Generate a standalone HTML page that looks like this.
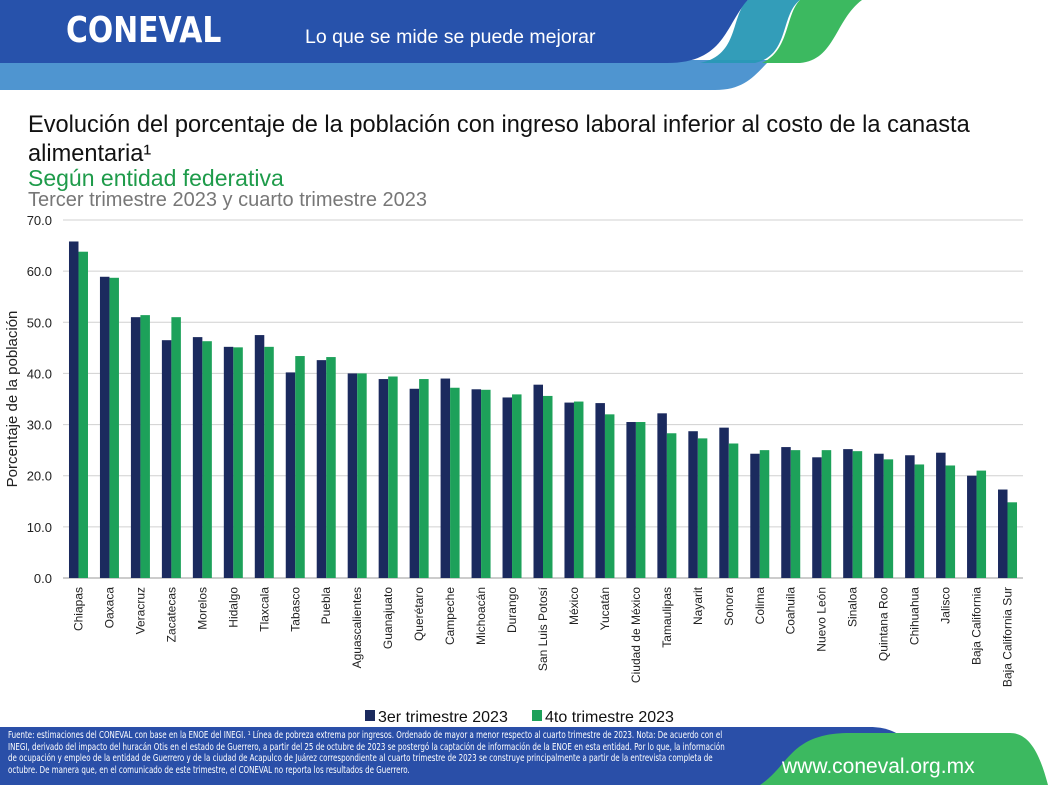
<!DOCTYPE html>
<html><head><meta charset="utf-8"><style>
body{margin:0;width:1048px;height:785px;overflow:hidden;background:#fff;font-family:"Liberation Sans",sans-serif;position:relative}
.t{position:absolute;white-space:nowrap}
</style></head><body>
<svg width="1048" height="92" style="position:absolute;left:0;top:0">
<path d="M0 60H770 C755 75 745 90 715 90 H0Z" fill="#4f95d0"/>
<path d="M800 0H862 C835 20 835 60 800 63 H762 C790 50 785 15 800 0Z" fill="#3cb960"/>
<path d="M0 0H748 C725 25 725 63 667 63 H0Z" fill="#2752ab"/>
<path d="M748 0H800 C780 15 790 55 755 63 H700 C740 55 730 15 748 0Z" fill="#2898b5" opacity="0.95"/>
</svg>
<div class="t" style="left:66px;top:10px;color:#fff;font-weight:bold;font-size:36px;letter-spacing:0px;font-family:'DejaVu Sans Condensed','Liberation Sans',sans-serif;transform:scaleX(0.92);transform-origin:left top">CONEVAL</div>
<div class="t" style="left:305px;top:26px;color:#fff;font-size:19.5px">Lo que se mide se puede mejorar</div>
<div class="t" style="left:28px;top:111px;font-size:23.6px;color:#111;line-height:29px">Evolución del porcentaje de la población con ingreso laboral inferior al costo de la canasta<br>alimentaria¹</div>
<div class="t" style="left:28px;top:165px;font-size:23px;color:#1e9b4a">Según entidad federativa</div>
<div class="t" style="left:28px;top:189px;font-size:20px;color:#777">Tercer trimestre 2023 y cuarto trimestre 2023</div>
<svg id="chart" width="1048" height="785" style="position:absolute;left:0;top:0"></svg>
<svg width="1048" height="60" style="position:absolute;left:0;top:725px">
<path d="M0 2H870 C900 2 920 20 928 60 H0Z" fill="#2a4fa8"/>
<path d="M760 60 C790 40 790 8 850 8 H1010 C1030 8 1040 30 1048 60Z" fill="#3cb960"/>
</svg>
<div class="t" style="left:8px;top:730px;color:#fff;font-size:9.5px;line-height:11.5px;font-family:'DejaVu Sans Condensed','Liberation Sans',sans-serif;transform:scaleX(0.83);transform-origin:left top">Fuente: estimaciones del CONEVAL con base en la ENOE del INEGI. ¹ Línea de pobreza extrema por ingresos. Ordenado de mayor a menor respecto al cuarto trimestre de 2023. Nota: De acuerdo con el<br>INEGI, derivado del impacto del huracán Otis en el estado de Guerrero, a partir del 25 de octubre de 2023 se postergó la captación de información de la ENOE en esta entidad. Por lo que, la información<br>de ocupación y empleo de la entidad de Guerrero y de la ciudad de Acapulco de Juárez correspondiente al cuarto trimestre de 2023 se construye principalmente a partir de la entrevista completa de<br>octubre. De manera que, en el comunicado de este trimestre, el CONEVAL no reporta los resultados de Guerrero.</div>
<div class="t" style="left:782px;top:755px;color:#fff;font-size:21px">www.coneval.org.mx</div>
<script>
const categories=["Chiapas","Oaxaca","Veracruz","Zacatecas","Morelos","Hidalgo","Tlaxcala","Tabasco","Puebla","Aguascalientes","Guanajuato","Querétaro","Campeche","Michoacán","Durango","San Luis Potosí","México","Yucatán","Ciudad de México","Tamaulipas","Nayarit","Sonora","Colima","Coahuila","Nuevo León","Sinaloa","Quintana Roo","Chihuahua","Jalisco","Baja California","Baja California Sur"];
const q3=[65.8,58.9,51.0,46.5,47.1,45.2,47.5,40.2,42.6,40.0,38.9,37.0,39.0,36.9,35.3,37.8,34.3,34.2,30.5,32.2,28.7,29.4,24.3,25.6,23.6,25.2,24.3,24.0,24.5,20.0,17.3];
const q4=[63.8,58.7,51.4,51.0,46.3,45.1,45.2,43.4,43.2,40.0,39.4,38.9,37.2,36.8,35.9,35.6,34.5,32.0,30.5,28.3,27.3,26.3,25.0,25.0,25.0,24.8,23.2,22.2,22.0,21.0,14.8];
const yTicks=["0.0","10.0","20.0","30.0","40.0","50.0","60.0","70.0"];
const seriesNames=["3er trimestre 2023","4to trimestre 2023"];
const NS="http://www.w3.org/2000/svg",svg=document.getElementById('chart');
const x0=63,x1=1023,yB=578,yT=220,yMax=70;
const step=(x1-x0)/categories.length,bw=9.5;
const y=v=>yB-(v/yMax)*(yB-yT);
function mk(t,a,p){const e=document.createElementNS(NS,t);for(const k in a)e.setAttribute(k,a[k]);(p||svg).appendChild(e);return e;}
yTicks.forEach(t=>{const v=parseFloat(t);
const l=mk('line',{x1:x0,x2:x1,y1:y(v),y2:y(v),stroke:v===0?'#999':'#d0d0d0','stroke-width':1});


const tx=mk('text',{x:52,y:y(v)+5,'text-anchor':'end','font-size':13,fill:'#222'});tx.textContent=t;

});
const yt=mk('text',{transform:'translate(17,399) rotate(-90)','text-anchor':'middle','font-size':15,fill:'#222'});yt.textContent='Porcentaje de la población';


categories.forEach((c,i)=>{const cx=x0+step*(i+0.5);
const a=mk('rect',{x:cx-bw,y:y(q3[i]),width:bw,height:yB-y(q3[i]),fill:'#1b2a5e'});


const b=mk('rect',{x:cx,y:y(q4[i]),width:bw,height:yB-y(q4[i]),fill:'#1da15a'});


const t=mk('text',{transform:`translate(${cx+4},587) rotate(-90)`,'text-anchor':'end','font-size':12,fill:'#222'});t.textContent=c;

});
[[360,'#1b2a5e'],[527,'#1da15a']].forEach((p,i)=>{const g=mk('g',{});


mk('rect',{x:p[0]+5,y:710,width:10,height:11,fill:p[1]},g);
const t=mk('text',{x:p[0]+18,y:722,'font-size':16,fill:'#111'},g);t.textContent=seriesNames[i];});
</script>
</body></html>
